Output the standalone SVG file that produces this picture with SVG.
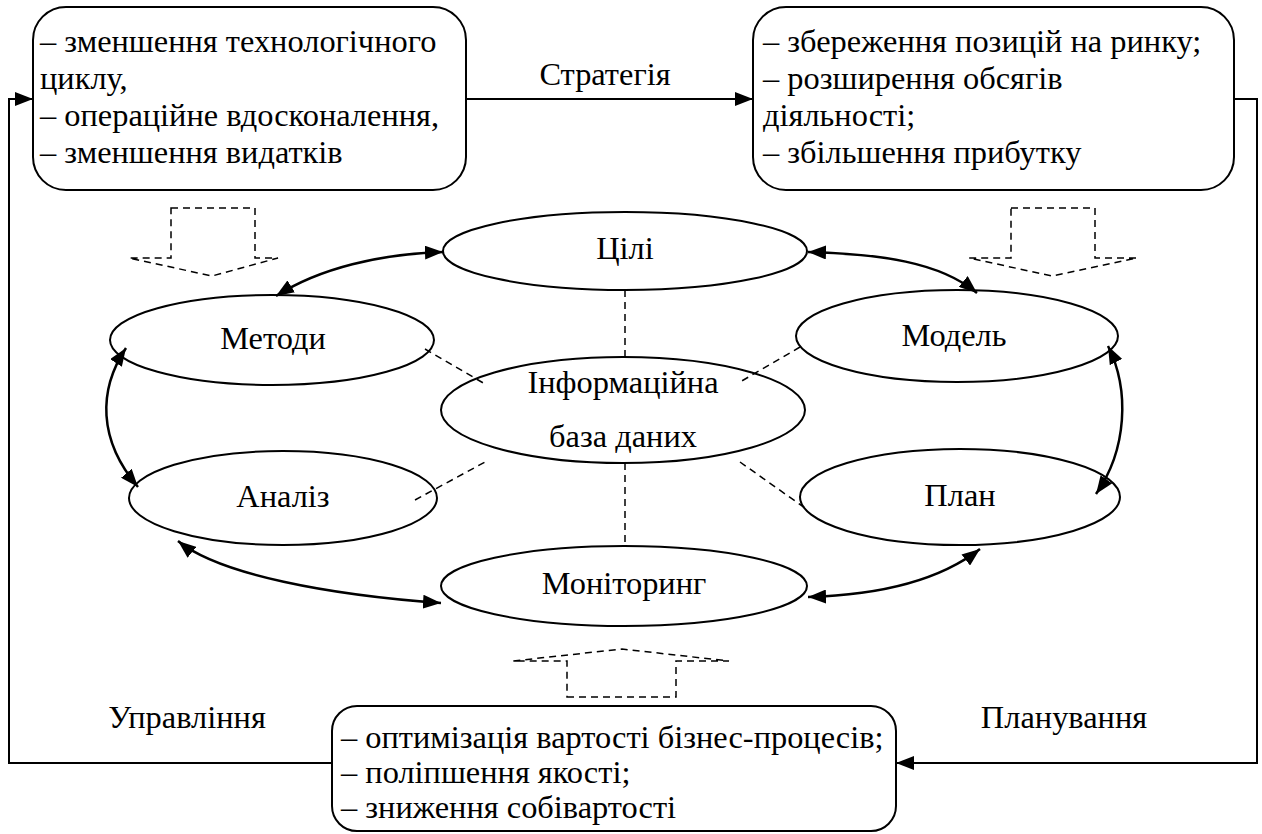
<svg xmlns="http://www.w3.org/2000/svg" width="1262" height="834" viewBox="0 0 1262 834">
<defs>
<marker id="ah" markerUnits="userSpaceOnUse" markerWidth="18" markerHeight="14" refX="18" refY="7" orient="auto-start-reverse">
<path d="M0,0 L18,7 L0,14 z" fill="#000"/>
</marker>
<style>
text{font-family:"Liberation Serif","DejaVu Serif",serif;font-size:32.4px;fill:#000}
.c{text-anchor:middle}
.box{fill:#fff;stroke:#000;stroke-width:2}
.el{fill:#fff;stroke:#000;stroke-width:2}
.ln{fill:none;stroke:#000;stroke-width:2}
.cv{fill:none;stroke:#000;stroke-width:2.5}
.ds{fill:none;stroke:#000;stroke-width:1.5;stroke-dasharray:7 5}
</style>
</defs>
<rect width="1262" height="834" fill="#fff"/>
<g id="arrow-left"><polygon class="ds" points="171,208 255,208 255,258 278,258 212,276 129,258 171,258"/></g>
<g id="arrow-right"><polygon class="ds" points="1011,208 1095,208 1095,258 1137,258 1052,276 969,258 1011,258"/></g>
<g id="arrow-up"><polygon class="ds" points="567,697 676,697 676,661 729,661 622,649 513,661 567,661"/></g>
<g id="box-tl">
<rect class="box" x="33" y="7" width="433" height="183" rx="33"/>
<text x="40" y="52">– зменшення технологічного</text>
<text x="40" y="89">циклу,</text>
<text x="40" y="126">– операційне вдосконалення,</text>
<text x="40" y="163">– зменшення видатків</text>
</g>
<g id="box-tr">
<rect class="box" x="753" y="7" width="481" height="183" rx="33"/>
<text x="763" y="52">– збереження позицій на ринку;</text>
<text x="763" y="89">– розширення обсягів</text>
<text x="763" y="126">діяльності;</text>
<text x="763" y="163">– збільшення прибутку</text>
</g>
<g id="box-b">
<rect class="box" x="332" y="706" width="564" height="125" rx="25"/>
<text x="341" y="748">– оптимізація вартості бізнес-процесів;</text>
<text x="341" y="783">– поліпшення якості;</text>
<text x="341" y="818">– зниження собівартості</text>
</g>
<g id="n-goals"><ellipse class="el" cx="625" cy="251" rx="182" ry="39"/><text class="c" x="625" y="259">Цілі</text></g>
<g id="n-methods"><ellipse class="el" cx="272" cy="340" rx="162" ry="45"/><text class="c" x="273" y="349">Методи</text></g>
<g id="n-model"><ellipse class="el" cx="957" cy="336" rx="161" ry="46"/><text class="c" x="954" y="346">Модель</text></g>
<g id="n-info"><ellipse class="el" cx="623" cy="410" rx="182" ry="53"/><text class="c" x="623" y="393">Інформаційна</text><text class="c" x="623" y="447">база даних</text></g>
<g id="n-analysis"><ellipse class="el" cx="283" cy="498" rx="154" ry="47"/><text class="c" x="283" y="507">Аналіз</text></g>
<g id="n-plan"><ellipse class="el" cx="960" cy="497" rx="160" ry="48"/><text class="c" x="960" y="506">План</text></g>
<g id="n-monitoring"><ellipse class="el" cx="624" cy="586" rx="183" ry="40"/><text class="c" x="624" y="594">Моніторинг</text></g>
<g id="labels">
<text class="c" x="605" y="85">Стратегія</text>
<text class="c" x="187" y="728">Управління</text>
<text class="c" x="1064" y="728">Планування</text>
</g>
<g id="connectors">
<polyline class="ln" points="332,763 9,763 9,99 33,99" marker-end="url(#ah)"/>
<line class="ln" x1="466" y1="99" x2="753" y2="99" marker-end="url(#ah)"/>
<polyline class="ln" points="1234,99 1257,99 1257,763 896,763" marker-end="url(#ah)"/>
<path class="cv" d="M276,296 C320,268 380,254 443,252" marker-start="url(#ah)" marker-end="url(#ah)"/>
<path class="cv" d="M808,252 C880,254 940,262 977,293" marker-start="url(#ah)" marker-end="url(#ah)"/>
<path class="cv" d="M126,348 C98,390 98,440 138,487" marker-start="url(#ah)" marker-end="url(#ah)"/>
<path class="cv" d="M1108,346 C1130,390 1127,450 1096,494" marker-start="url(#ah)" marker-end="url(#ah)"/>
<path class="cv" d="M178,541 C220,575 330,595 441,603" marker-start="url(#ah)" marker-end="url(#ah)"/>
<path class="cv" d="M808,597 C880,595 940,580 980,549" marker-start="url(#ah)" marker-end="url(#ah)"/>
<line class="ds" x1="625" y1="290" x2="625" y2="357"/>
<line class="ds" x1="425" y1="349" x2="485" y2="384"/>
<line class="ds" x1="800" y1="347" x2="740" y2="382"/>
<line class="ds" x1="415" y1="500" x2="485" y2="462"/>
<line class="ds" x1="740" y1="462" x2="805" y2="508"/>
<line class="ds" x1="625" y1="463" x2="625" y2="546"/>
</g>
</svg>
